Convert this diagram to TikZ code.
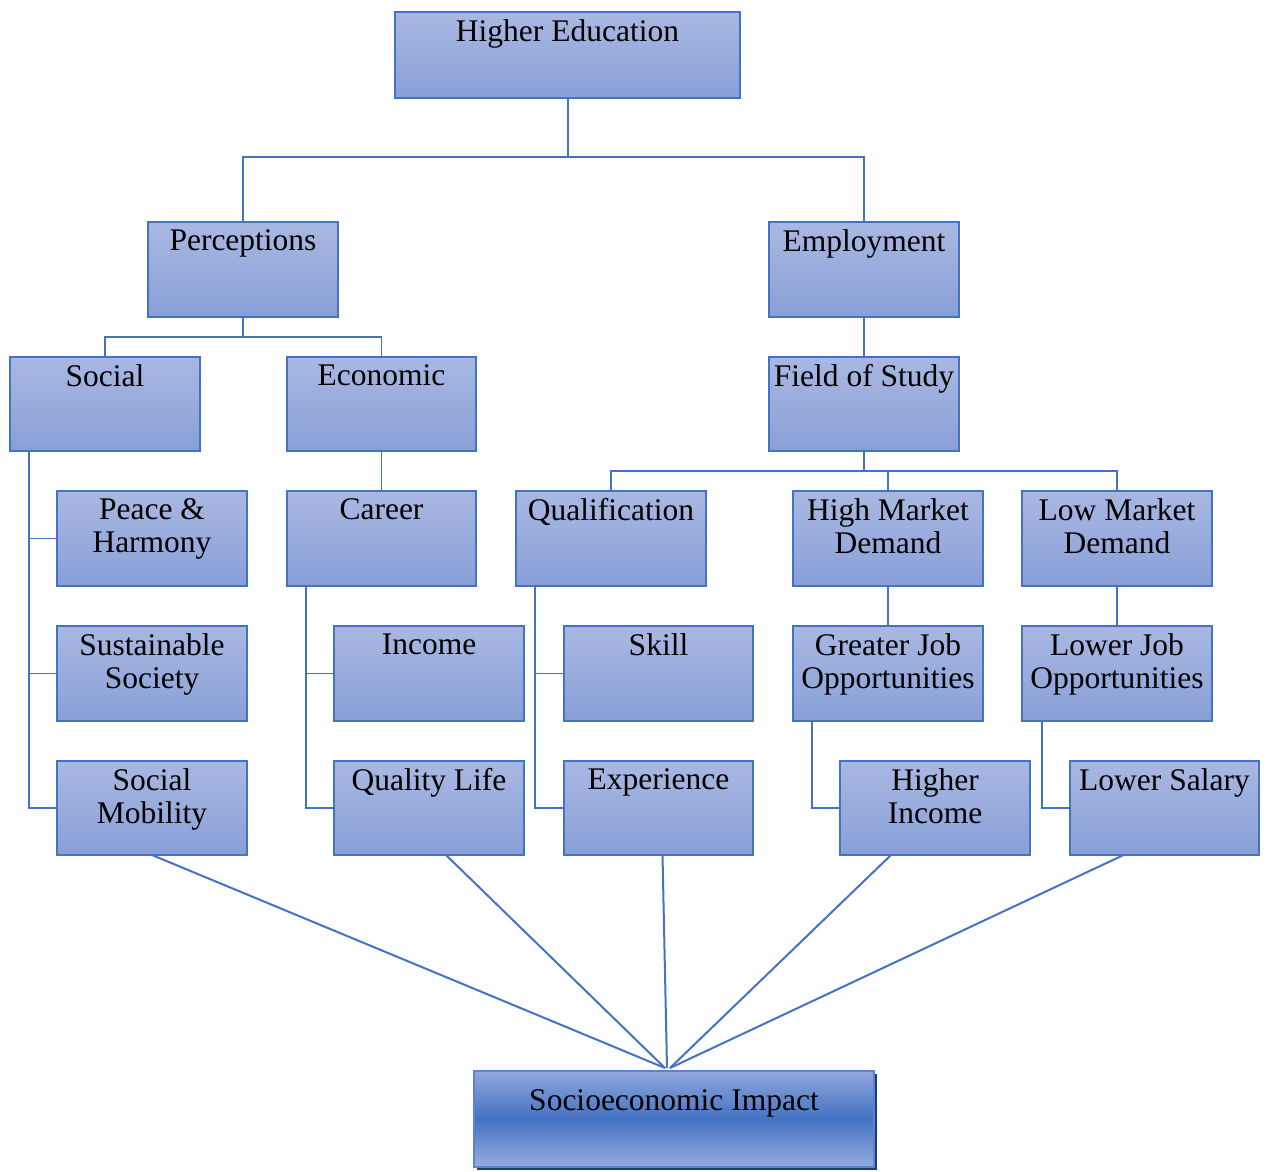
\documentclass[tikz,border=0pt]{standalone}
\usepackage{fontspec}
\setmainfont{Liberation Serif}
\usetikzlibrary{shadows}
\definecolor{lineblue}{HTML}{4472C4}
\definecolor{boxtop}{HTML}{A9B8E2}
\definecolor{boxbot}{HTML}{889FD7}
\definecolor{imptop}{HTML}{90A7DB}
\definecolor{impmid}{HTML}{4472C4}
\definecolor{impbot}{HTML}{96ADDE}
\definecolor{impborder}{HTML}{5B84CF}
\definecolor{shadowc}{HTML}{1F3A78}
\newcommand\mybox[6]{%
  \node[bx,minimum width={(#4-#2)*1pt},minimum height={(#5-#3)*1pt}] (#1) at ({(#2+#4)/2},{(#3+#5)/2}) {};
  \node[lbl] (#1-t) at ([yshift=-7.5pt]#1.north) {#6};}
\begin{document}
\begin{tikzpicture}[x=1pt,y=-1pt,
  bx/.style={rectangle,draw=lineblue,line width=1.2pt,top color=boxtop,bottom color=boxbot,inner sep=0pt,outer sep=0pt},
  lbl/.style={anchor=north,inner sep=0pt,align=center,font=\fontsize{31.5}{33}\selectfont,text=black},
  thick line/.style={draw=lineblue,line width=2pt},
  thin line/.style={draw=lineblue,line width=1.2pt}]
\useasboundingbox (0,0) rectangle (1268,1171);

% level 0
\node[bx,minimum width=345pt,minimum height=86pt] (he) at (567.5,55) {};
\node[lbl] (he-t) at ([yshift=-7.5pt]he.north) {Higher Education};

% level 1
\mybox{perc}{148}{222}{338}{317}{Perceptions}
\mybox{emp}{769}{222}{959}{317}{Employment}
% level 2
\mybox{social}{10}{357}{200}{451}{Social}
\mybox{econ}{287}{357}{476}{451}{Economic}
\mybox{fos}{769}{357}{959}{451}{Field of Study}
% level 3
\mybox{peace}{57}{491}{247}{586}{Peace \&\\Harmony}
\mybox{career}{287}{491}{476}{586}{Career}
\mybox{qual}{516}{491}{706}{586}{Qualification}
\mybox{hmd}{793}{491}{983}{586}{High Market\\Demand}
\mybox{lmd}{1022}{491}{1212}{586}{Low Market\\Demand}
% level 4
\mybox{sust}{57}{626}{247}{721}{Sustainable\\Society}
\mybox{income}{334}{626}{524}{721}{Income}
\mybox{skill}{564}{626}{753}{721}{Skill}
\mybox{gjo}{793}{626}{983}{721}{Greater Job\\Opportunities}
\mybox{ljo}{1022}{626}{1212}{721}{Lower Job\\Opportunities}
% level 5
\mybox{sm}{57}{761}{247}{855}{Social\\Mobility}
\mybox{ql}{334}{761}{524}{855}{Quality Life}
\mybox{exp}{564}{761}{753}{855}{Experience}
\mybox{hi}{840}{761}{1030}{855}{Higher\\Income}
\mybox{ls}{1070}{761}{1259}{855}{Lower Salary}

% impact
\node[rectangle,draw=impborder,line width=2pt,top color=imptop,bottom color=impbot,middle color=impmid,
  inner sep=0pt,minimum width=400pt,minimum height=96pt,
  drop shadow={shadow xshift=3pt,shadow yshift=-3pt,fill=shadowc,opacity=1}] (impact) at (674,1119) {};
\node[lbl] (impact-t) at ([yshift=-19pt]impact.north) {Socioeconomic Impact};

% connectors
\draw[thick line] (he.south) -- ++(0,59) -| (perc.north);
\draw[thick line] (he.south) -- ++(0,59) -| (emp.north);

\draw[thin line] (perc.south) -- ++(0,20) -| (social.north);
\draw[thin line] (perc.south) -- ++(0,20) -| (econ.north);
\draw[thin line] (emp.south) -- (fos.north);
\draw[thin line] (econ.south) -- (career.north);

\draw[thin line] (fos.south) -- ++(0,20) -| (qual.north);
\draw[thin line] (fos.south) -- ++(0,20) -| (hmd.north);
\draw[thin line] (fos.south) -- ++(0,20) -| (lmd.north);

\draw[thin line] ([xshift=19pt]social.south west) |- (peace.west);
\draw[thin line] ([xshift=19pt]social.south west) |- (sust.west);
\draw[thin line] ([xshift=19pt]social.south west) |- (sm.west);

\draw[thin line] ([xshift=19pt]career.south west) |- (income.west);
\draw[thin line] ([xshift=19pt]career.south west) |- (ql.west);

\draw[thin line] ([xshift=19pt]qual.south west) |- (skill.west);
\draw[thin line] ([xshift=19pt]qual.south west) |- (exp.west);

\draw[thin line] (hmd.south) -- (gjo.north);
\draw[thin line] (lmd.south) -- (ljo.north);
\draw[thin line] ([xshift=19pt]gjo.south west) |- (hi.west);
\draw[thin line] ([xshift=20pt]ljo.south west) |- (ls.west);

\draw[thick line] (sm.south) -- ([xshift=-9pt,yshift=2pt]impact.north);
\draw[thick line] ([xshift=17pt]ql.south) -- ([xshift=-9pt,yshift=2pt]impact.north);
\draw[thick line] ([xshift=4pt]exp.south) -- ([xshift=-7pt,yshift=2pt]impact.north);
\draw[thick line] ([xshift=-44pt]hi.south) -- ([xshift=-4pt,yshift=2pt]impact.north);
\draw[thick line] ([xshift=-41pt]ls.south) -- ([xshift=-4pt,yshift=2pt]impact.north);
\end{tikzpicture}
\end{document}
